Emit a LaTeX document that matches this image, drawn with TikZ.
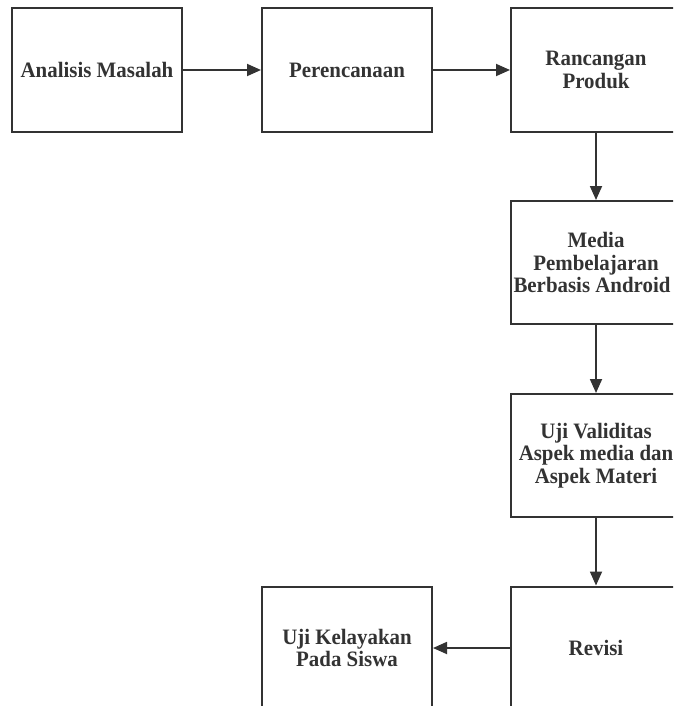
\documentclass[tikz,border=0pt]{standalone}
\usepackage{fontspec}
\setmainfont{Liberation Serif}[FakeStretch=0.95]
\usetikzlibrary{arrows.meta}
\definecolor{ink}{HTML}{333333}
\begin{document}
\begin{tikzpicture}[x=1pt,y=-1pt,
  box/.style={draw=ink,line width=2pt,rectangle,minimum width=170pt,minimum height=123pt,
    align=center,text=ink,font=\fontsize{22}{22.5}\selectfont\bfseries,inner sep=0pt},
  conn/.style={draw=ink,line width=1.8pt,-{Triangle[length=14pt,width=12pt]}}]
\useasboundingbox (0,0) rectangle (673,706);
\clip (0,0) rectangle (673,706);
\node[box] (a) at (97,70) {Analisis Masalah};
\node[box] (p) at (347,70) {Perencanaan};
\node[box] (r) at (596,70) {Rancangan\\Produk};
\node[box] (m) at (596,262.5) {Media\\Pembelajaran\\Berbasis Android\kern8pt};
\node[box] (u) at (596,455.5) {Uji Validitas\\Aspek media dan\\Aspek Materi};
\node[box] (v) at (596,648) {Revisi};
\node[box] (k) at (347,648) {Uji Kelayakan\\Pada Siswa};
\draw[conn] (a) -- (p);
\draw[conn] (p) -- (r);
\draw[conn] (r) -- (m);
\draw[conn] (m) -- (u);
\draw[conn] (u) -- (v);
\draw[conn] (v) -- (k);
\end{tikzpicture}
\end{document}
